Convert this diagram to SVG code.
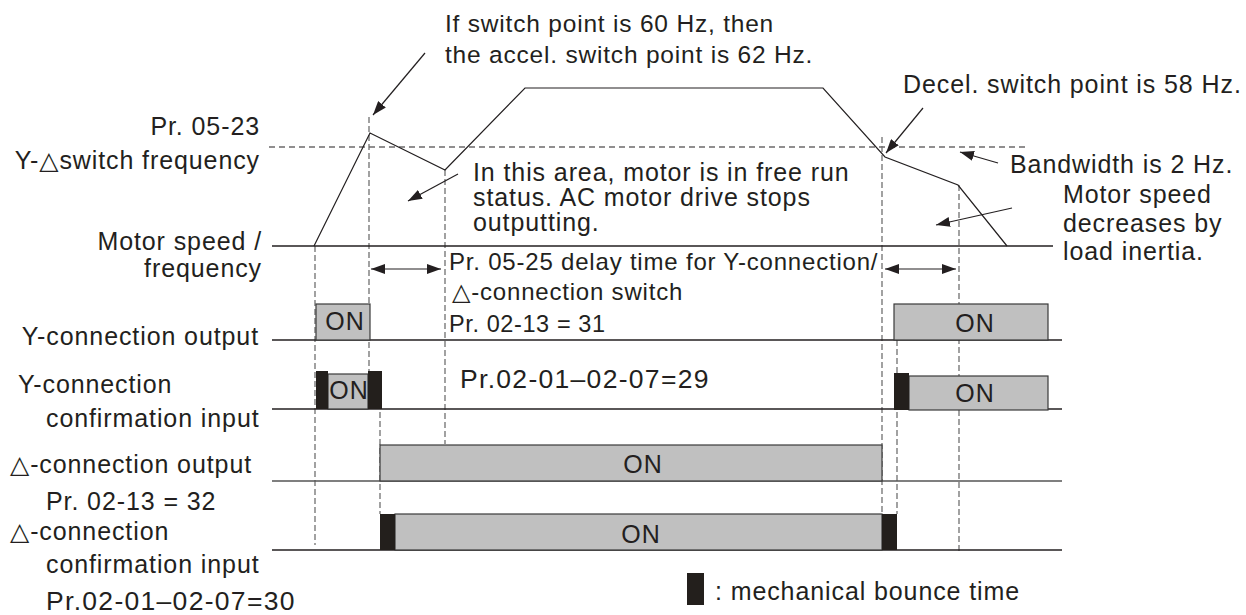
<svg xmlns="http://www.w3.org/2000/svg" width="1246" height="615" viewBox="0 0 1246 615">
<style>
text{font-family:"Liberation Sans","DejaVu Sans",Arial,sans-serif;font-size:25px;fill:#231f20;letter-spacing:0.9px}
.e{text-anchor:end}
.m{text-anchor:middle}
.big{font-size:26.5px;letter-spacing:1.3px}
.sm{font-size:24px;letter-spacing:0.8px}
.xs{font-size:23.5px;letter-spacing:0.6px}
.ln{stroke:#231f20;stroke-width:1.2;fill:none}
.ax{stroke:#231f20;stroke-width:1.3;fill:none}
.hd{stroke:#231f20;stroke-width:1.1;stroke-dasharray:6 4;fill:none}
.vd{stroke:#707070;stroke-width:1.3;stroke-dasharray:6 3;fill:none}
.box{fill:#c0c0c0;stroke:#3a3a3a;stroke-width:1.2}
.blk{fill:#231f1c}
.ar{stroke:#231f20;stroke-width:1.2;fill:none;marker-end:url(#ah)}
.dar{stroke:#231f20;stroke-width:1.2;fill:none;marker-end:url(#ah);marker-start:url(#ah)}
</style>
<defs>
<marker id="ah" markerUnits="userSpaceOnUse" markerWidth="14" markerHeight="10" refX="14" refY="5" orient="auto-start-reverse">
<path d="M0,0 L14,5 L0,10 z" fill="#231f20"/>
</marker>
</defs>

<g id="labels-left">
<text class="e" x="260" y="135">Pr. 05-23</text>
<text class="e" x="260" y="169">Y-△switch frequency</text>
<text class="e" x="262" y="250">Motor speed /</text>
<text class="e" x="262" y="277">frequency</text>
<text class="e" x="259" y="345">Y-connection output</text>
<text x="18" y="393">Y-connection</text>
<text x="46" y="427">confirmation input</text>
<text x="10" y="473">△-connection output</text>
<text x="46" y="510">Pr. 02-13 = 32</text>
<text x="10" y="540">△-connection</text>
<text x="46" y="573">confirmation input</text>
<text class="big" x="46" y="610">Pr.02-01–02-07=30</text>
</g>

<g id="annotations">
<text class="sm" x="445" y="32" style="font-size:24.5px">If switch point is 60 Hz, then</text>
<text class="sm" x="445" y="63" style="font-size:24.5px">the accel. switch point is 62 Hz.</text>
<text x="903" y="93">Decel. switch point is 58 Hz.</text>
<text x="1010" y="173">Bandwidth is 2 Hz.</text>
<text x="1063" y="203">Motor speed</text>
<text x="1063" y="232">decreases by</text>
<text x="1063" y="260">load inertia.</text>
<text x="473" y="181">In this area, motor is in free run</text>
<text x="473" y="206">status. AC motor drive stops</text>
<text x="473" y="231">outputting.</text>
<text class="sm" x="449" y="270">Pr. 05-25 delay time for Y-connection/</text>
<text class="sm" x="452" y="300">△-connection switch</text>
<text class="xs" x="449" y="332">Pr. 02-13 = 31</text>
<text class="big" x="460" y="388">Pr.02-01–02-07=29</text>
</g>

<g id="guides">
<path class="hd" d="M269,147 H1027"/>
<path class="vd" d="M315,246 V545"/>
<path class="vd" d="M369,117 V371"/>
<path class="vd" d="M380,412 V514"/>
<path class="vd" d="M445,170 V444"/>
<path class="vd" d="M882,137 V514"/>
<path class="vd" d="M897,340 V514"/>
<path class="vd" d="M959,185 V552"/>
</g>

<g id="speed-curve">
<path class="ax" d="M272,246 H1053"/>
<path class="ln" d="M314,246 L370,133 L445,170 L525,88 L823,88 L885,157 L958,185 L1007,246"/>
</g>

<g id="y-output">
<path class="ax" d="M272,340 H1062"/>
<rect class="box" x="316" y="304" width="54" height="36"/>
<text class="m" x="345" y="330">ON</text>
<rect class="box" x="894" y="304" width="154" height="36"/>
<text class="m" x="975" y="332">ON</text>
</g>

<g id="y-confirm">
<path class="ax" d="M272,409 H1062"/>
<rect class="box" x="328" y="374" width="40" height="35"/>
<rect class="blk" x="316" y="371" width="12" height="38"/>
<rect class="blk" x="368" y="371" width="14" height="38"/>
<text class="m" x="349" y="399">ON</text>
<rect class="box" x="909" y="376" width="139" height="34"/>
<rect class="blk" x="894" y="373" width="15" height="37"/>
<text class="m" x="975" y="402">ON</text>
</g>

<g id="delta-output">
<path class="ax" d="M272,481 H1062" style="stroke:#555"/>
<rect class="box" x="380" y="445" width="502" height="36"/>
<text class="m" x="643" y="473">ON</text>
</g>

<g id="delta-confirm">
<path class="ax" d="M272,550 H1062"/>
<rect class="box" x="395" y="514" width="487" height="36"/>
<rect class="blk" x="380" y="514" width="15" height="36"/>
<rect class="blk" x="882" y="514" width="15" height="36"/>
<text class="m" x="641" y="543">ON</text>
</g>

<g id="connectors">
<path class="ar" d="M425,53 L373,115"/>
<path class="ar" d="M458,174 L408,201"/>
<path class="ar" d="M923,108 L886,153"/>
<path class="ar" d="M998,163 L960,152"/>
<path class="ar" d="M1012,208 L936,225"/>
<path class="dar" d="M371,269 L441,269"/>
<path class="dar" d="M885,269 L956,269"/>
</g>

<g id="legend">
<rect class="blk" x="687" y="573" width="17" height="32"/>
<text x="715" y="600">: mechanical bounce time</text>
</g>
</svg>
